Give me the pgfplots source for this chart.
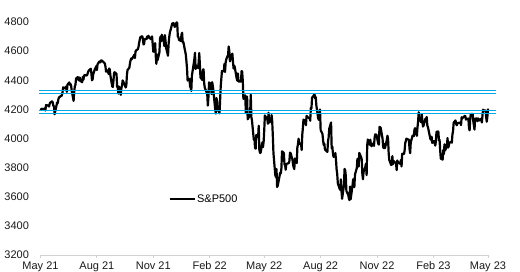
\documentclass[border=0pt]{standalone}
\usepackage{fontspec}
\setmainfont{Liberation Sans}
\usepackage{pgfplots}
\usepackage{pgfplotstable}
\pgfplotsset{compat=1.18}
\usepgfplotslibrary{dateplot}
\definecolor{lvl}{RGB}{0,170,230}
\definecolor{axgray}{RGB}{210,210,210}
\pgfplotstableread{
date close
2021-05-26 4195
2021-05-27 4200
2021-05-28 4204
2021-06-01 4202
2021-06-02 4208
2021-06-03 4192
2021-06-04 4230
2021-06-07 4226
2021-06-08 4227
2021-06-09 4219
2021-06-10 4239
2021-06-11 4247
2021-06-14 4255
2021-06-15 4246
2021-06-16 4223
2021-06-17 4222
2021-06-18 4166
2021-06-21 4224
2021-06-22 4246
2021-06-23 4242
2021-06-24 4266
2021-06-25 4281
2021-06-28 4291
2021-06-29 4291
2021-06-30 4298
2021-07-01 4320
2021-07-02 4352
2021-07-06 4343
2021-07-07 4358
2021-07-08 4320
2021-07-09 4370
2021-07-12 4385
2021-07-13 4369
2021-07-14 4374
2021-07-15 4360
2021-07-16 4327
2021-07-19 4258
2021-07-20 4323
2021-07-21 4359
2021-07-22 4368
2021-07-23 4412
2021-07-26 4422
2021-07-27 4401
2021-07-28 4400
2021-07-29 4419
2021-07-30 4395
2021-08-02 4387
2021-08-03 4423
2021-08-04 4403
2021-08-05 4429
2021-08-06 4437
2021-08-09 4432
2021-08-10 4436
2021-08-11 4448
2021-08-12 4460
2021-08-13 4468
2021-08-16 4479
2021-08-17 4448
2021-08-18 4400
2021-08-19 4406
2021-08-20 4442
2021-08-23 4479
2021-08-24 4486
2021-08-25 4497
2021-08-26 4470
2021-08-27 4509
2021-08-30 4529
2021-08-31 4523
2021-09-01 4524
2021-09-02 4537
2021-09-03 4535
2021-09-07 4520
2021-09-08 4514
2021-09-09 4493
2021-09-10 4459
2021-09-13 4469
2021-09-14 4443
2021-09-15 4481
2021-09-16 4474
2021-09-17 4433
2021-09-20 4358
2021-09-21 4354
2021-09-22 4396
2021-09-23 4449
2021-09-24 4455
2021-09-27 4443
2021-09-28 4353
2021-09-29 4360
2021-09-30 4308
2021-10-01 4357
2021-10-04 4300
2021-10-05 4346
2021-10-06 4364
2021-10-07 4399
2021-10-08 4391
2021-10-11 4361
2021-10-12 4350
2021-10-13 4364
2021-10-14 4438
2021-10-15 4471
2021-10-18 4486
2021-10-19 4519
2021-10-20 4537
2021-10-21 4550
2021-10-22 4545
2021-10-25 4567
2021-10-26 4575
2021-10-27 4552
2021-10-28 4597
2021-10-29 4605
2021-11-01 4614
2021-11-02 4631
2021-11-03 4660
2021-11-04 4680
2021-11-05 4697
2021-11-08 4702
2021-11-09 4685
2021-11-10 4646
2021-11-11 4649
2021-11-12 4683
2021-11-15 4683
2021-11-16 4701
2021-11-17 4689
2021-11-18 4705
2021-11-19 4698
2021-11-22 4682
2021-11-23 4691
2021-11-24 4701
2021-11-26 4595
2021-11-29 4655
2021-11-30 4567
2021-12-01 4513
2021-12-02 4577
2021-12-03 4538
2021-12-06 4592
2021-12-07 4686
2021-12-08 4701
2021-12-09 4668
2021-12-10 4712
2021-12-13 4669
2021-12-14 4635
2021-12-15 4710
2021-12-16 4668
2021-12-17 4621
2021-12-20 4568
2021-12-21 4650
2021-12-22 4697
2021-12-23 4726
2021-12-27 4791
2021-12-28 4786
2021-12-29 4793
2021-12-30 4778
2021-12-31 4766
2022-01-03 4797
2022-01-04 4794
2022-01-05 4701
2022-01-06 4696
2022-01-07 4677
2022-01-10 4670
2022-01-11 4713
2022-01-12 4726
2022-01-13 4660
2022-01-14 4663
2022-01-18 4577
2022-01-19 4533
2022-01-20 4483
2022-01-21 4398
2022-01-24 4410
2022-01-25 4357
2022-01-26 4350
2022-01-27 4327
2022-01-28 4432
2022-01-31 4516
2022-02-01 4546
2022-02-02 4589
2022-02-03 4477
2022-02-04 4500
2022-02-07 4484
2022-02-08 4522
2022-02-09 4587
2022-02-10 4504
2022-02-11 4419
2022-02-14 4402
2022-02-15 4472
2022-02-16 4475
2022-02-17 4380
2022-02-18 4349
2022-02-22 4305
2022-02-23 4226
2022-02-24 4288
2022-02-25 4385
2022-02-28 4374
2022-03-01 4306
2022-03-02 4387
2022-03-03 4364
2022-03-04 4329
2022-03-07 4201
2022-03-08 4171
2022-03-09 4278
2022-03-10 4260
2022-03-11 4204
2022-03-14 4173
2022-03-15 4262
2022-03-16 4358
2022-03-17 4412
2022-03-18 4463
2022-03-21 4461
2022-03-22 4512
2022-03-23 4456
2022-03-24 4520
2022-03-25 4543
2022-03-28 4575
2022-03-29 4632
2022-03-30 4602
2022-03-31 4530
2022-04-01 4546
2022-04-04 4583
2022-04-05 4525
2022-04-06 4481
2022-04-07 4500
2022-04-08 4488
2022-04-11 4413
2022-04-12 4397
2022-04-13 4447
2022-04-14 4392
2022-04-18 4391
2022-04-19 4463
2022-04-20 4459
2022-04-21 4394
2022-04-22 4272
2022-04-25 4296
2022-04-26 4175
2022-04-27 4183
2022-04-28 4288
2022-04-29 4132
2022-05-02 4155
2022-05-03 4175
2022-05-04 4300
2022-05-05 4147
2022-05-06 4123
2022-05-09 3991
2022-05-10 4001
2022-05-11 3935
2022-05-12 3930
2022-05-13 4024
2022-05-16 4008
2022-05-17 4088
2022-05-18 3924
2022-05-19 3901
2022-05-20 3901
2022-05-23 3974
2022-05-24 3941
2022-05-25 3979
2022-05-26 4058
2022-05-27 4158
2022-05-31 4132
2022-06-01 4101
2022-06-02 4177
2022-06-03 4109
2022-06-06 4121
2022-06-07 4161
2022-06-08 4116
2022-06-09 4018
2022-06-10 3901
2022-06-13 3750
2022-06-14 3735
2022-06-15 3790
2022-06-16 3667
2022-06-17 3675
2022-06-21 3765
2022-06-22 3760
2022-06-23 3796
2022-06-24 3912
2022-06-27 3900
2022-06-28 3821
2022-06-29 3819
2022-06-30 3785
2022-07-01 3825
2022-07-05 3831
2022-07-06 3845
2022-07-07 3903
2022-07-08 3899
2022-07-11 3855
2022-07-12 3819
2022-07-13 3802
2022-07-14 3790
2022-07-15 3863
2022-07-18 3831
2022-07-19 3937
2022-07-20 3960
2022-07-21 3999
2022-07-22 3962
2022-07-25 3967
2022-07-26 3921
2022-07-27 4024
2022-07-28 4072
2022-07-29 4130
2022-08-01 4119
2022-08-02 4091
2022-08-03 4155
2022-08-04 4152
2022-08-05 4145
2022-08-08 4140
2022-08-09 4122
2022-08-10 4210
2022-08-11 4208
2022-08-12 4280
2022-08-15 4297
2022-08-16 4305
2022-08-17 4274
2022-08-18 4284
2022-08-19 4228
2022-08-22 4138
2022-08-23 4128
2022-08-24 4141
2022-08-25 4199
2022-08-26 4058
2022-08-29 4031
2022-08-30 3986
2022-08-31 3955
2022-09-01 3967
2022-09-02 3924
2022-09-06 3908
2022-09-07 3980
2022-09-08 4006
2022-09-09 4067
2022-09-12 4110
2022-09-13 3932
2022-09-14 3946
2022-09-15 3901
2022-09-16 3873
2022-09-19 3900
2022-09-20 3856
2022-09-21 3790
2022-09-22 3758
2022-09-23 3693
2022-09-26 3655
2022-09-27 3647
2022-09-28 3720
2022-09-29 3640
2022-09-30 3586
2022-10-03 3678
2022-10-04 3791
2022-10-05 3783
2022-10-06 3745
2022-10-07 3640
2022-10-10 3612
2022-10-11 3589
2022-10-12 3577
2022-10-13 3670
2022-10-14 3583
2022-10-17 3678
2022-10-18 3720
2022-10-19 3695
2022-10-20 3666
2022-10-21 3753
2022-10-24 3797
2022-10-25 3860
2022-10-26 3831
2022-10-27 3807
2022-10-28 3901
2022-10-31 3872
2022-11-01 3856
2022-11-02 3760
2022-11-03 3720
2022-11-04 3771
2022-11-07 3807
2022-11-08 3828
2022-11-09 3749
2022-11-10 3956
2022-11-11 3993
2022-11-14 3957
2022-11-15 3992
2022-11-16 3959
2022-11-17 3947
2022-11-18 3965
2022-11-21 3950
2022-11-22 4003
2022-11-23 4028
2022-11-25 4026
2022-11-28 3964
2022-11-29 3958
2022-11-30 4080
2022-12-01 4077
2022-12-02 4072
2022-12-05 3999
2022-12-06 3941
2022-12-07 3933
2022-12-08 3963
2022-12-09 3934
2022-12-12 3991
2022-12-13 4019
2022-12-14 3996
2022-12-15 3896
2022-12-16 3852
2022-12-19 3818
2022-12-20 3821
2022-12-21 3879
2022-12-22 3823
2022-12-23 3845
2022-12-27 3829
2022-12-28 3783
2022-12-29 3849
2022-12-30 3840
2023-01-03 3825
2023-01-04 3853
2023-01-05 3808
2023-01-06 3895
2023-01-09 3893
2023-01-10 3919
2023-01-11 3970
2023-01-12 3983
2023-01-13 3999
2023-01-17 3991
2023-01-18 3929
2023-01-19 3899
2023-01-20 3973
2023-01-23 4020
2023-01-24 4017
2023-01-25 4016
2023-01-26 4060
2023-01-27 4071
2023-01-30 4018
2023-01-31 4077
2023-02-01 4119
2023-02-02 4180
2023-02-03 4136
2023-02-06 4111
2023-02-07 4164
2023-02-08 4118
2023-02-09 4082
2023-02-10 4090
2023-02-13 4137
2023-02-14 4136
2023-02-15 4148
2023-02-16 4090
2023-02-17 4079
2023-02-21 3997
2023-02-22 3991
2023-02-23 4012
2023-02-24 3970
2023-02-27 3982
2023-02-28 3970
2023-03-01 3951
2023-03-02 3981
2023-03-03 4046
2023-03-06 4048
2023-03-07 3986
2023-03-08 3992
2023-03-09 3918
2023-03-10 3862
2023-03-13 3855
2023-03-14 3920
2023-03-15 3892
2023-03-16 3960
2023-03-17 3917
2023-03-20 3951
2023-03-21 4003
2023-03-22 3937
2023-03-23 3948
2023-03-24 3971
2023-03-27 3977
2023-03-28 3971
2023-03-29 4028
2023-03-30 4051
2023-03-31 4109
2023-04-03 4124
2023-04-04 4101
2023-04-05 4091
2023-04-06 4105
2023-04-10 4109
2023-04-11 4108
2023-04-12 4092
2023-04-13 4146
2023-04-14 4138
2023-04-17 4151
2023-04-18 4155
2023-04-19 4155
2023-04-20 4130
2023-04-21 4134
2023-04-24 4137
2023-04-25 4072
2023-04-26 4056
2023-04-27 4136
2023-04-28 4169
2023-05-01 4168
2023-05-02 4119
2023-05-03 4091
2023-05-04 4061
2023-05-05 4136
2023-05-08 4138
2023-05-09 4119
2023-05-10 4138
2023-05-11 4131
2023-05-12 4124
2023-05-15 4136
2023-05-16 4110
2023-05-17 4159
2023-05-18 4198
2023-05-19 4192
2023-05-22 4193
2023-05-23 4146
2023-05-24 4115
2023-05-25 4151
2023-05-26 4205
}\spx

\begin{document}
\begin{tikzpicture}
\begin{axis}[
  name=ax,
  scale only axis, width=447.5pt, height=233pt,
  date coordinates in=x,
  xmin=2021-05-26, xmax=2023-05-26,
  ymin=3200, ymax=4800,
  axis x line*=bottom, axis y line*=left,
  x axis line style={draw=axgray, line width=0.8pt},
  y axis line style={draw=none},
  xtick={2021-05-26,2021-08-26,2021-11-26,2022-02-26,2022-05-26,2022-08-26,2022-11-26,2023-02-26,2023-05-26},
  xticklabels={May 21,Aug 21,Nov 21,Feb 22,May 22,Aug 22,Nov 22,Feb 23,May 23},
  ytick={3200,3400,3600,3800,4000,4200,4400,4600,4800},
  yticklabels={3200,3400,3600,3800,4000,4200,4400,4600,4800},
  tick label style={font=\fontsize{11}{13}\selectfont, text=black!90},
  xtick style={draw=axgray, line width=0.8pt},
  tick align=outside, major tick length=3pt,
  ytick style={draw=none},
  yticklabel style={xshift=-5pt},
  clip=false,
  legend style={at={(0.286,0.2403)}, anchor=west, draw=none, fill=none,
    inner sep=0pt, font=\fontsize{11}{13}\selectfont,
    nodes={inner sep=1.2pt}},
  legend image code/.code={\draw[#1] (0pt,0pt) -- (25pt,0pt);},
]
\addplot[black, line width=2.2pt, line join=round, mark=none] table[x=date,y=close]{\spx};
\addlegendentry{S\&P500}
\addplot[lvl, line width=1pt, forget plot] coordinates {(2021-05-24,4327) (2023-06-08,4327)};
\addplot[lvl, line width=1pt, forget plot] coordinates {(2021-05-24,4308) (2023-06-08,4308)};
\addplot[lvl, line width=1pt, forget plot] coordinates {(2021-05-24,4190) (2023-06-08,4190)};
\addplot[lvl, line width=1pt, forget plot] coordinates {(2021-05-24,4171) (2023-06-08,4171)};
\end{axis}
\pgfresetboundingbox
\path[use as bounding box] (ax.south west) ++(-40.5pt,-17pt) rectangle ++(520pt,272pt);
\end{tikzpicture}
\end{document}
